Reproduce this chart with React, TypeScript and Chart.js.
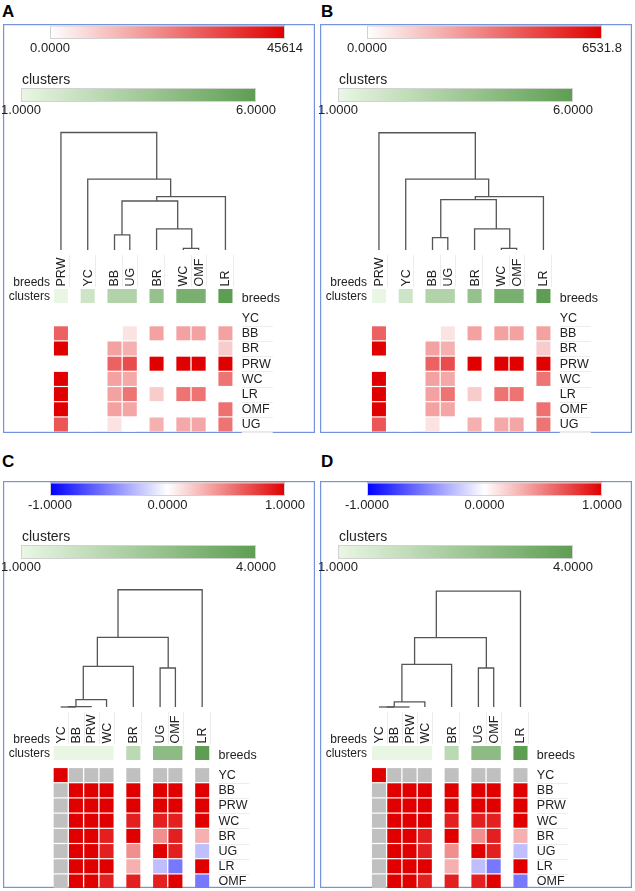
import React, { useEffect, useRef } from "react";
import { Chart, registerables } from "chart.js";

Chart.register(...registerables);

const FONT = '"Liberation Sans", Arial, Helvetica, sans-serif';
const OX = 5;
const PITCH = 15.3;
const ROW_H = 15.2;
const ROW_TOP = 286.5;
const DEN_BASE = 226;
const DEN_K = 117.5;
const BOX_COLOR = "#7592df";
const TEXT = "#222";

// ---------- Panel A ----------
const colsA = ["PRW", "YC", "BB", "UG", "BR", "WC", "OMF", "LR"];
const colPosA = [0, 1.75, 3.5, 4.5, 6.25, 8, 9, 10.75];
const clustersA = [1, 2, 3, 3, 4, 5, 5, 6];
const rowsA = ["YC", "BB", "BR", "PRW", "WC", "LR", "OMF", "UG"];
const maxA = 45614;
const scaleTicksA = ["0.0000", "45614"];
const clusterTicksA = ["1.0000", "6.0000"];
const heatA = [
  [0, 0, 0, 0, 0, 0, 0, 0],
  [28300, 0, 0, 5000, 16900, 16900, 16900, 16900],
  [45614, 0, 16900, 14100, 0, 0, 0, 9100],
  [0, 0, 28300, 32000, 45614, 45614, 45614, 45614],
  [45614, 0, 16900, 15500, 0, 0, 0, 25100],
  [45614, 0, 16900, 25100, 9100, 25100, 25100, 0],
  [45614, 0, 16900, 16000, 0, 0, 0, 25500],
  [30000, 0, 5000, 0, 14100, 15500, 16000, 25100],
];
// merges: [left, right, height, node x]
const denA = [
  [2, 3, 0.128, 4.49],
  [5, 6, 0.014, 9.05],
  [4, 9, 0.179, 8.13],
  [8, 10, 0.417, 6.76],
  [11, 7, 0.454, 7.67],
  [1, 12, 0.604, 6.76],
  [0, 13, 1.0, 3.6],
];

// ---------- Panel B ----------
const colsB = ["PRW", "YC", "BB", "UG", "BR", "WC", "OMF", "LR"];
const colPosB = [0, 1.75, 3.5, 4.5, 6.25, 8, 9, 10.75];
const clustersB = [1, 2, 3, 3, 4, 5, 5, 6];
const rowsB = ["YC", "BB", "BR", "PRW", "WC", "LR", "OMF", "UG"];
const maxB = 6531.8;
const scaleTicksB = ["0.0000", "6531.8"];
const clusterTicksB = ["1.0000", "6.0000"];
const heatB = [
  [0, 0, 0, 0, 0, 0, 0, 0],
  [4050, 0, 0, 720, 2420, 2420, 2420, 2420],
  [6531.8, 0, 2420, 2020, 0, 0, 0, 1300],
  [0, 0, 4050, 4580, 6531.8, 6531.8, 6531.8, 6531.8],
  [6531.8, 0, 2420, 2220, 0, 0, 0, 3590],
  [6531.8, 0, 2420, 3590, 1300, 3590, 3590, 0],
  [6531.8, 0, 2420, 2290, 0, 0, 0, 3650],
  [4300, 0, 720, 0, 2020, 2220, 2290, 3590],
];
const denB = [
  [2, 3, 0.105, 4.54],
  [5, 6, 0.014, 9.05],
  [4, 9, 0.179, 8.17],
  [8, 10, 0.428, 6.8],
  [11, 7, 0.454, 7.67],
  [1, 12, 0.604, 6.8],
  [0, 13, 0.998, 3.6],
];

// ---------- Panel C ----------
const colsC = ["YC", "BB", "PRW", "WC", "BR", "UG", "OMF", "LR"];
const colPosC = [0, 1, 2, 3, 4.75, 6.5, 7.5, 9.25];
const clustersC = [1, 1, 1, 1, 2, 3, 3, 4];
const rowsC = ["YC", "BB", "PRW", "WC", "BR", "UG", "LR", "OMF"];
const scaleTicksC = ["-1.0000", "0.0000", "1.0000"];
const clusterTicksC = ["1.0000", "4.0000"];
const heatC = [
  [1, null, null, null, null, null, null, null],
  [null, 1, 1, 1, 1, 1, 1, 1],
  [null, 1, 1, 1, 1, 1, 1, 1],
  [null, 1, 1, 1, 0.88, 0.88, 0.88, 1],
  [null, 1, 1, 0.88, 1, 0.44, 0.88, 0.31],
  [null, 1, 1, 0.88, 0.44, 1, 0.88, -0.25],
  [null, 1, 1, 1, 0.31, -0.25, -0.53, 1],
  [null, 1, 1, 0.88, 0.88, 0.88, 1, -0.53],
];
const denC = [
  [0, 1, 0.0, 1.0],
  [8, 2, 0.003, 1.5],
  [9, 3, 0.062, 1.98],
  [10, 4, 0.346, 2.9],
  [5, 6, 0.332, 7.53],
  [11, 12, 0.592, 4.25],
  [13, 7, 0.998, 6.0],
];

// ---------- Panel D ----------
const colsD = ["YC", "BB", "PRW", "WC", "BR", "UG", "OMF", "LR"];
const colPosD = [0, 1, 2, 3, 4.75, 6.5, 7.5, 9.25];
const clustersD = [1, 1, 1, 1, 2, 3, 3, 4];
const rowsD = ["YC", "BB", "PRW", "WC", "BR", "UG", "LR", "OMF"];
const scaleTicksD = ["-1.0000", "0.0000", "1.0000"];
const clusterTicksD = ["1.0000", "4.0000"];
const heatD = [
  [1, null, null, null, null, null, null, null],
  [null, 1, 1, 1, 1, 1, 1, 1],
  [null, 1, 1, 1, 1, 1, 1, 1],
  [null, 1, 1, 1, 0.88, 0.88, 0.88, 1],
  [null, 1, 1, 0.88, 1, 0.44, 0.88, 0.31],
  [null, 1, 1, 0.88, 0.44, 1, 0.88, -0.25],
  [null, 1, 1, 1, 0.31, -0.25, -0.53, 1],
  [null, 1, 1, 0.88, 0.88, 0.88, 1, -0.53],
];
const denD = [
  [0, 1, 0.0, 1.0],
  [8, 2, 0.0, 1.5],
  [9, 3, 0.043, 2.0],
  [10, 4, 0.363, 2.83],
  [5, 6, 0.332, 7.52],
  [11, 12, 0.591, 4.25],
  [13, 7, 0.987, 6.0],
];

type Spec = {
  letter: string;
  letterX: number;
  letterY: number;
  left: number;
  top: number;
  w: number;
  h: number;
  x0: number;
  cols: string[];
  colPos: number[];
  clusters: number[];
  rows: string[];
  heat: (number | null)[][];
  den: number[][];
  vmin: number;
  vmax: number;
  diverging: boolean;
  ticks: string[];
  clusterMax: number;
  clusterTicks: string[];
};

const panels: Spec[] = [
  { letter: "A", letterX: 2, letterY: 3, left: 3, top: 24, w: 312, h: 409, x0: 50.3, cols: colsA, colPos: colPosA, clusters: clustersA, rows: rowsA, heat: heatA, den: denA, vmin: 0, vmax: maxA, diverging: false, ticks: scaleTicksA, clusterMax: 6, clusterTicks: clusterTicksA },
  { letter: "B", letterX: 321, letterY: 3, left: 320, top: 24, w: 312, h: 409, x0: 51.3, cols: colsB, colPos: colPosB, clusters: clustersB, rows: rowsB, heat: heatB, den: denB, vmin: 0, vmax: maxB, diverging: false, ticks: scaleTicksB, clusterMax: 6, clusterTicks: clusterTicksB },
  { letter: "C", letterX: 2, letterY: 453, left: 3, top: 481, w: 312, h: 407, x0: 50, cols: colsC, colPos: colPosC, clusters: clustersC, rows: rowsC, heat: heatC, den: denC, vmin: -1, vmax: 1, diverging: true, ticks: scaleTicksC, clusterMax: 4, clusterTicks: clusterTicksC },
  { letter: "D", letterX: 321, letterY: 453, left: 320, top: 481, w: 312, h: 407, x0: 51.3, cols: colsD, colPos: colPosD, clusters: clustersD, rows: rowsD, heat: heatD, den: denD, vmin: -1, vmax: 1, diverging: true, ticks: scaleTicksD, clusterMax: 4, clusterTicks: clusterTicksD },
];

const clamp = (t: number) => Math.max(0, Math.min(1, t));
const rgb = (r: number, g: number, b: number) => `rgb(${Math.round(r)},${Math.round(g)},${Math.round(b)})`;
const lerpC = (a: number[], b: number[], t: number) => rgb(a[0] + (b[0] - a[0]) * t, a[1] + (b[1] - a[1]) * t, a[2] + (b[2] - a[2]) * t);
const WHITE = [255, 255, 255];
const RED = [224, 0, 0];
const BLUE = [0, 0, 255];
const G0 = [234, 246, 228];
const G1 = [94, 158, 82];
const NA_COLOR = "#c0c0c0";

function heatColor(spec: Spec, v: number) {
  if (spec.diverging) {
    return v >= 0 ? lerpC(WHITE, RED, clamp(v)) : lerpC(WHITE, BLUE, clamp(-v));
  }
  return lerpC(WHITE, RED, clamp((v - spec.vmin) / (spec.vmax - spec.vmin)));
}
function scaleColorAt(spec: Spec, t: number) {
  return heatColor(spec, spec.vmin + (spec.vmax - spec.vmin) * t);
}
function greenColor(spec: Spec, c: number) {
  return lerpC(G0, G1, clamp((c - 1) / (spec.clusterMax - 1)));
}

function drawGradientBar(ctx: CanvasRenderingContext2D, x: number, y: number, w: number, h: number, colorAt: (t: number) => string) {
  const g = ctx.createLinearGradient(x, 0, x + w, 0);
  for (let i = 0; i <= 20; i++) g.addColorStop(i / 20, colorAt(i / 20));
  ctx.fillStyle = g;
  ctx.fillRect(x, y, w, h);
  ctx.strokeStyle = "#d2d2d2";
  ctx.lineWidth = 1;
  ctx.strokeRect(x + 0.5, y + 0.5, w - 1, h - 1);
}

function makePlugin(spec: Spec) {
  return {
    id: "panelDecor" + spec.letter,
    beforeDatasetsDraw(chart: any) {
      const ctx: CanvasRenderingContext2D = chart.ctx;
      const xs = chart.scales.x;
      const yh = chart.scales.yHeat;
      const X = (u: number) => xs.getPixelForValue(u);
      const Y = (v: number) => yh.getPixelForValue(v);
      ctx.save();

      // box
      ctx.strokeStyle = BOX_COLOR;
      ctx.lineWidth = 1.2;
      ctx.strokeRect(OX + 0.6, 0.6, spec.w - 1.2, spec.h - 1.2);

      // value colour scale
      const bx = OX + 47, bw = 235;
      drawGradientBar(ctx, bx, 1.5, bw, 13.5, (t) => scaleColorAt(spec, t));
      ctx.fillStyle = TEXT;
      ctx.font = `13px ${FONT}`;
      ctx.textAlign = "center";
      ctx.textBaseline = "middle";
      spec.ticks.forEach((lab, i) => {
        const t = spec.ticks.length === 1 ? 0 : i / (spec.ticks.length - 1);
        ctx.fillText(lab, bx + bw * t, 24.5);
      });

      // clusters scale
      ctx.font = `14px ${FONT}`;
      ctx.textAlign = "left";
      ctx.fillText("clusters", OX + 19, 56);
      const gx = OX + 18, gw = 235;
      drawGradientBar(ctx, gx, 64, gw, 14, (t) => lerpC(G0, G1, t));
      ctx.fillStyle = TEXT;
      ctx.font = `13px ${FONT}`;
      ctx.textAlign = "center";
      spec.clusterTicks.forEach((lab, i) => {
        const t = i / (spec.clusterTicks.length - 1);
        ctx.fillText(lab, gx + gw * t, 86.5);
      });

      const lastCol = spec.colPos[spec.colPos.length - 1] + 1;
      const labelX = X(lastCol) + 8.7;
      const cbTop = Y(-1.414);
      const cbBot = Y(-0.493);

      // faint separators for column labels
      ctx.strokeStyle = "#ececec";
      ctx.lineWidth = 1;
      spec.colPos.forEach((c) => {
        const x = Math.round(X(c + 1)) + 0.5;
        ctx.beginPath();
        ctx.moveTo(x, cbTop - 34);
        ctx.lineTo(x, cbTop - 2);
        ctx.stroke();
      });
      // faint separators for row labels
      spec.rows.forEach((_, i) => {
        const y = Math.round(Y(i + 1)) + 0.5;
        ctx.beginPath();
        ctx.moveTo(labelX, y);
        ctx.lineTo(labelX + 31, y);
        ctx.stroke();
      });

      // cluster bars (contiguous columns of the same cluster are merged)
      let start = 0;
      for (let j = 1; j <= spec.cols.length; j++) {
        const same = j < spec.cols.length && spec.clusters[j] === spec.clusters[start] && spec.colPos[j] - spec.colPos[j - 1] === 1;
        if (!same) {
          const x1 = X(spec.colPos[start]) + 0.6;
          const x2 = X(spec.colPos[j - 1] + 1) - 0.6;
          ctx.fillStyle = greenColor(spec, spec.clusters[start]);
          ctx.fillRect(x1, cbTop, x2 - x1, cbBot - cbTop);
          start = j;
        }
      }

      // heatmap cells
      spec.heat.forEach((row, i) => {
        row.forEach((v, j) => {
          const x1 = X(spec.colPos[j]) + 0.65;
          const x2 = X(spec.colPos[j] + 1) - 0.65;
          const y1 = Y(i) + 0.6;
          const y2 = Y(i + 1) - 0.6;
          ctx.fillStyle = v === null ? NA_COLOR : heatColor(spec, v);
          ctx.fillRect(x1, y1, x2 - x1, y2 - y1);
        });
      });

      // column labels (rotated)
      ctx.fillStyle = TEXT;
      ctx.font = `12.5px ${FONT}`;
      ctx.textAlign = "left";
      ctx.textBaseline = "middle";
      spec.cols.forEach((lab, j) => {
        ctx.save();
        ctx.translate(X(spec.colPos[j] + 0.5), cbTop - 2.5);
        ctx.rotate(-Math.PI / 2);
        ctx.fillText(lab, 0, 0.5);
        ctx.restore();
      });

      // row labels
      spec.rows.forEach((lab, i) => {
        ctx.fillText(lab, labelX, Y(i + 0.5) + 0.5);
      });
      ctx.fillText("breeds", labelX, 275);

      // left annotation labels
      ctx.font = `12px ${FONT}`;
      ctx.textAlign = "right";
      ctx.fillText("breeds", OX + 47, 259);
      ctx.fillText("clusters", OX + 47, 273);

      ctx.restore();
    },
  };
}

function denDatasets(spec: Spec) {
  const nodes: { x: number; h: number }[] = spec.colPos.map((c) => ({ x: c + 0.5, h: 0 }));
  const ds: any[] = [];
  spec.den.forEach(([a, b, h, x]) => {
    const L = nodes[a];
    const R = nodes[b];
    ds.push({
      data: [
        { x: L.x, y: L.h },
        { x: L.x, y: h },
        { x: R.x, y: h },
        { x: R.x, y: R.h },
      ],
      showLine: true,
      borderColor: "#555555",
      borderWidth: 1.3,
      pointRadius: 0,
      fill: false,
      tension: 0,
      xAxisID: "x",
      yAxisID: "yDen",
    });
    nodes.push({ x, h });
  });
  return ds;
}

function Panel({ spec }: { spec: Spec }) {
  const ref = useRef<HTMLCanvasElement | null>(null);
  const W = spec.w + OX;
  const H = spec.h;
  useEffect(() => {
    const canvas = ref.current;
    if (!canvas) return;
    const chart = new Chart(canvas, {
      type: "scatter",
      data: { datasets: denDatasets(spec) },
      options: {
        responsive: false,
        animation: false,
        events: [],
        layout: { padding: 0 },
        plugins: {
          legend: { display: false },
          tooltip: { enabled: false },
          title: { display: false },
        },
        scales: {
          x: {
            type: "linear",
            display: false,
            bounds: "data",
            min: -(OX + spec.x0) / PITCH,
            max: (W - OX - spec.x0) / PITCH,
          },
          y: { type: "linear", display: false },
          yDen: {
            type: "linear",
            display: false,
            position: "left",
            bounds: "data",
            min: -(H - DEN_BASE) / DEN_K,
            max: DEN_BASE / DEN_K,
          },
          yHeat: {
            type: "linear",
            display: false,
            position: "left",
            reverse: true,
            bounds: "data",
            min: -ROW_TOP / ROW_H,
            max: (H - ROW_TOP) / ROW_H,
          },
        },
      } as any,
      plugins: [makePlugin(spec)],
    });
    return () => chart.destroy();
  }, [spec]);
  return (
    <>
      <div
        style={{
          position: "absolute",
          left: spec.letterX,
          top: spec.letterY,
          font: `bold 17px ${FONT}`,
          lineHeight: "17px",
          color: "#000",
        }}
      >
        {spec.letter}
      </div>
      <canvas
        ref={ref}
        width={W}
        height={H}
        style={{ position: "absolute", left: spec.left - OX, top: spec.top, width: W, height: H }}
      />
    </>
  );
}

export default function App() {
  return (
    <div
      style={{
        position: "fixed",
        left: 0,
        top: 0,
        width: 635,
        height: 891,
        background: "#ffffff",
        overflow: "hidden",
        fontFamily: FONT,
      }}
    >
      {panels.map((p) => (
        <Panel key={p.letter} spec={p} />
      ))}
    </div>
  );
}
